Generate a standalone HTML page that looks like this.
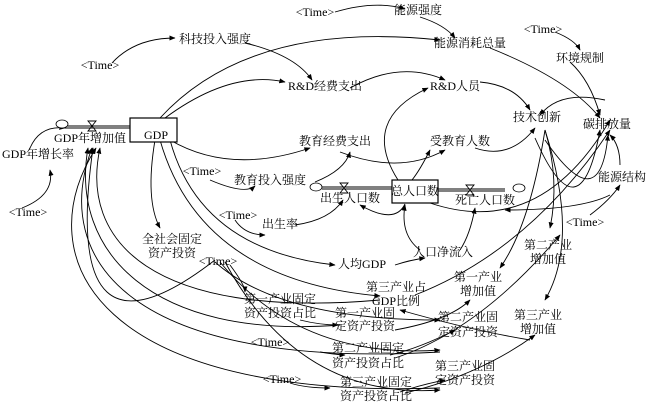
<!DOCTYPE html>
<html><head><meta charset="utf-8"><style>
html,body{margin:0;padding:0;background:#fff;}
svg{display:block;}
text{font-family:"Liberation Serif","Noto Serif CJK SC",serif;font-size:12px;fill:#000;text-anchor:middle;dominant-baseline:middle;}
path{fill:none;stroke:#000;stroke-width:0.9;}
</style></head><body>
<svg width="650" height="404" viewBox="0 0 650 404" xmlns="http://www.w3.org/2000/svg">
<defs><marker id="a" viewBox="0 0 10 10" refX="9" refY="5" markerWidth="7" markerHeight="7" orient="auto"><path d="M0,1 L10,5 L0,9 z" style="fill:#000;stroke:none"/></marker></defs>
<g marker-end="url(#a)">
<path d="M335,12 Q375,0 405,9"/>
<path d="M112,63 Q135,38 175,38"/>
<path d="M245,43 Q295,55 312,80"/>
<path d="M165,118 Q230,70 285,82"/>
<path d="M160,118 Q250,20 440,40"/>
<path d="M420,17 Q445,25 455,38"/>
<path d="M555,32 Q575,40 580,50"/>
<path d="M350,88 Q400,60 445,80"/>
<path d="M480,82 Q515,85 530,110"/>
<path d="M490,48 Q570,80 600,118"/>
<path d="M570,62 Q590,80 600,115"/>
<path d="M210,180 Q245,195 255,186"/>
<path d="M170,140 Q230,175 310,148"/>
<path d="M315,182 Q345,170 350,152"/>
<path d="M340,152 Q400,175 445,150"/>
<path d="M412,180 Q420,170 430,150"/>
<path d="M475,148 Q510,160 535,128"/>
<path d="M398,180 Q360,120 428,88"/>
<path d="M605,100 Q560,90 540,115"/>
<path d="M295,225 Q330,220 343,200"/>
<path d="M235,220 Q245,235 265,235"/>
<path d="M405,204 Q395,225 360,205"/>
<path d="M420,250 Q400,235 405,205"/>
<path d="M460,250 Q470,235 475,208"/>
<path d="M430,203 Q540,240 610,120"/>
<path d="M610,195 Q580,210 505,210"/>
<path d="M590,215 Q610,200 620,185"/>
<path d="M620,165 Q620,145 610,135"/>
<path d="M545,130 Q560,180 550,228"/>
<path d="M545,130 Q580,240 545,300"/>
<path d="M545,130 Q530,225 500,268"/>
<path d="M155,140 Q145,200 160,228"/>
<path d="M170,140 Q200,250 335,265"/>
<path d="M395,265 Q410,260 425,258"/>
<path d="M160,140 Q200,280 380,296"/>
<path d="M415,295 Q530,250 610,130"/>
<path d="M230,265 Q245,285 245,292"/>
<path d="M300,320 Q320,325 338,325"/>
<path d="M395,330 Q450,320 470,300"/>
<path d="M320,352 Q340,355 345,355"/>
<path d="M390,355 Q420,348 455,330"/>
<path d="M395,358 Q480,330 560,235"/>
<path d="M290,383 Q305,388 330,388"/>
<path d="M400,392 Q420,385 445,380"/>
<path d="M405,393 Q480,375 535,335"/>
<path d="M530,340 Q470,330 400,310"/>
<path d="M535,138 Q580,240 600,130"/>
<path d="M545,140 Q600,220 608,135"/>
<path d="M22,208 Q55,195 50,170"/>
<path d="M30,148 Q40,125 65,128"/>
<path d="M340,325 C150,340 70,250 88,148"/>
<path d="M440,352 C130,370 50,260 92,148"/>
<path d="M440,388 C100,400 25,260 96,148"/>
<path d="M215,260 Q60,380 93,148"/>
<path d="M380,300 C150,320 80,240 100,148"/>
<path d="M215,262 Q280,320 440,320"/>
<path d="M220,262 Q300,360 440,350"/>
<path d="M225,262 Q300,400 440,390"/>
</g>
<g>
<path d="M65,127 H130" style="stroke-width:3"/><path d="M65,127 H130" style="stroke:#fff;stroke-width:1"/>
<path d="M322,188 H392" style="stroke-width:3"/><path d="M322,188 H392" style="stroke:#fff;stroke-width:1"/>
<path d="M438,190 H505" style="stroke-width:3"/><path d="M438,190 H505" style="stroke:#fff;stroke-width:1"/>
<path d="M88,121 L96,121 L88,131 L96,131 Z"/>
<path d="M340,183 L348,183 L340,193 L348,193 Z"/>
<path d="M466,185 L474,185 L466,195 L474,195 Z"/>
<ellipse cx="62" cy="124" rx="6" ry="4" style="fill:#fff;stroke:#000;stroke-width:0.8"/>
<ellipse cx="316" cy="187" rx="6" ry="4" style="fill:#fff;stroke:#000;stroke-width:0.8"/>
<ellipse cx="519" cy="188" rx="6" ry="4" style="fill:#fff;stroke:#000;stroke-width:0.8"/>
<rect x="130" y="118" width="47" height="24" style="fill:#fff;stroke:#000;stroke-width:1.2"/>
<rect x="392" y="180" width="46" height="23" style="fill:#fff;stroke:#000;stroke-width:1.2"/>
</g>
<text x="315" y="13">&lt;Time&gt;</text>
<text x="418" y="11">能源强度</text>
<text x="215" y="40">科技投入强度</text>
<text x="100" y="66">&lt;Time&gt;</text>
<text x="470" y="44">能源消耗总量</text>
<text x="543" y="30">&lt;Time&gt;</text>
<text x="580" y="59">环境规制</text>
<text x="325" y="87">R&amp;D经费支出</text>
<text x="455" y="87">R&amp;D人员</text>
<text x="156" y="136">GDP</text>
<text x="90" y="139">GDP年增加值</text>
<text x="38" y="155">GDP年增长率</text>
<text x="28" y="213">&lt;Time&gt;</text>
<text x="537" y="118">技术创新</text>
<text x="607" y="125">碳排放量</text>
<text x="335" y="142">教育经费支出</text>
<text x="460" y="142">受教育人数</text>
<text x="202" y="172">&lt;Time&gt;</text>
<text x="270" y="181">教育投入强度</text>
<text x="622" y="178">能源结构</text>
<text x="350" y="199">出生人口数</text>
<text x="415" y="192">总人口数</text>
<text x="485" y="201">死亡人口数</text>
<text x="238" y="216">&lt;Time&gt;</text>
<text x="280" y="225">出生率</text>
<text x="585" y="223">&lt;Time&gt;</text>
<text x="172" y="240">全社会固定</text><text x="172" y="254">资产投资</text>
<text x="218" y="262">&lt;Time&gt;</text>
<text x="362" y="265">人均GDP</text>
<text x="443" y="253">人口净流入</text>
<text x="548" y="246">第二产业</text><text x="548" y="260">增加值</text>
<text x="396" y="288">第三产业占</text><text x="396" y="302">GDP比例</text>
<text x="478" y="278">第一产业</text><text x="478" y="292">增加值</text>
<text x="280" y="300">第一产业固定</text><text x="280" y="314">资产投资占比</text>
<text x="365" y="314">第一产业固</text><text x="365" y="327">定资产投资</text>
<text x="468" y="318">第二产业固</text><text x="468" y="333">定资产投资</text>
<text x="538" y="316">第三产业</text><text x="538" y="330">增加值</text>
<text x="270" y="343">&lt;Time&gt;</text>
<text x="368" y="349">第二产业固定</text><text x="368" y="364">资产投资占比</text>
<text x="282" y="380">&lt;Time&gt;</text>
<text x="465" y="367">第三产业固</text><text x="465" y="381">定资产投资</text>
<text x="376" y="383">第三产业固定</text><text x="376" y="397">资产投资占比</text>
</svg>
</body></html>
